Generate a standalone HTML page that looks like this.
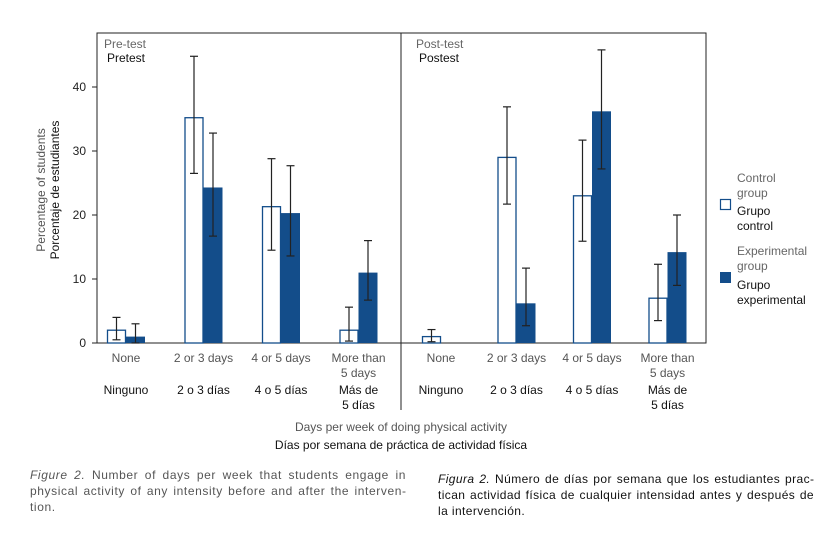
<!DOCTYPE html>
<html><head><meta charset="utf-8">
<style>
body{margin:0;background:#fff;font-family:"Liberation Sans",sans-serif;}
svg text{font-family:"Liberation Sans",sans-serif;}
.cap{position:absolute;font-size:12px;line-height:16px;color:#333;text-align:justify;letter-spacing:0.4px;}
</style></head>
<body>
<div style="position:relative;width:840px;height:542px;overflow:hidden">
<svg id="chart" width="840" height="460" style="position:absolute;left:0;top:0"></svg>
<div class="cap" style="left:30px;top:467px;width:376px;color:#555;letter-spacing:0.6px"><i>Figure 2.</i> Number of days per week that students engage in physical activity of any intensity before and after the interven&shy;tion.</div>
<div class="cap" style="left:438px;top:471px;width:376px;color:#111"><i>Figura 2.</i> Número de días por semana que los estudiantes prac&shy;tican actividad física de cualquier intensidad antes y después de la intervención.</div>
</div>
<script>
const categories=["None","2 or 3 days","4 or 5 days","More than|5 days"];
const categoriesEs=["Ninguno","2 o 3 días","4 o 5 días","Más de|5 días"];
const yTicks=[0,10,20,30,40];
const preControl=[2,35.2,21.3,2];
const preExp=[1,24.3,20.3,11];
const preControlLo=[0.5,26.5,14.5,0.3];
const preControlHi=[4,44.8,28.8,5.6];
const preExpLo=[0,16.7,13.6,6.7];
const preExpHi=[3,32.8,27.7,16];
const postControl=[1,29,23,7];
const postExp=[0,6.2,36.2,14.2];
const postControlLo=[0.2,21.7,15.9,3.5];
const postControlHi=[2.1,36.9,31.7,12.3];
const postExpLo=[null,2.7,27.2,9];
const postExpHi=[null,11.7,45.8,20];

const NS="http://www.w3.org/2000/svg";
const svg=document.getElementById('chart');
function el(t,a,p){const e=document.createElementNS(NS,t);for(const k in a)e.setAttribute(k,a[k]);(p||svg).appendChild(e);return e;}
const y0=343,pxPer=6.4;
function y(v){return y0-v*pxPer;}
const blue="#134d8a";
let f=el('rect',{x:97,y:33,width:609,height:310,fill:'none',stroke:'#222','stroke-width':1});

let d=el('line',{x1:401,y1:33,x2:401,y2:410,stroke:'#222','stroke-width':1});

yTicks.forEach(t=>{
 let l=el('line',{x1:92,x2:97,y1:y(t),y2:y(t),stroke:'#222'});
 
 let tx=el('text',{x:86,y:y(t)+4,'text-anchor':'end','font-size':12,fill:'#222'});tx.textContent=t;
 
});
let yt=el('text',{transform:'translate(45,190) rotate(-90)','text-anchor':'middle','font-size':12,fill:'#555'});yt.textContent='Percentage of students';

let yt2=el('text',{transform:'translate(59,190) rotate(-90)','text-anchor':'middle','font-size':12,fill:'#111'});yt2.textContent='Porcentaje de estudiantes';

[[104,'Pre-test','Pretest'],[416,'Post-test','Postest']].forEach(p=>{
 let a=el('text',{x:p[0],y:48,'font-size':12,fill:'#666'});a.textContent=p[1];
 
 let b=el('text',{x:p[0]+3,y:62,'font-size':12,fill:'#111'});b.textContent=p[2];
 
});
const bw=19;
function errbar(cx,lo,hi){
 if(lo==null)return;
 let g=el('g',{stroke:'#222','stroke-width':1.2});
 
 el('line',{x1:cx,x2:cx,y1:y(lo),y2:y(hi)},g);
 el('line',{x1:cx-4,x2:cx+4,y1:y(lo),y2:y(lo)},g);
 el('line',{x1:cx-4,x2:cx+4,y1:y(hi),y2:y(hi)},g);
}
function panel(x0,step,ctl,exp,cl,ch,elo,ehi,name){
 categories.forEach((c,i)=>{
  const cx=x0+i*step;
  if(ctl[i]>0){let r=el('rect',{x:cx-bw+0.5,y:y(ctl[i]),width:bw-1,height:ctl[i]*pxPer,fill:'#fff',stroke:blue,'stroke-width':1.3});
  }
  if(exp[i]>0){let r=el('rect',{x:cx,y:y(exp[i]),width:bw,height:exp[i]*pxPer,fill:blue});
  }
  errbar(cx-bw/2,cl[i],ch[i]);
  errbar(cx+bw/2,elo[i],ehi[i]);
  const en=c.split('|'),es=categoriesEs[i].split('|');
  en.forEach((s,k)=>{let t=el('text',{x:cx,y:362+k*15,'text-anchor':'middle','font-size':12,fill:'#555'});t.textContent=s;
   });
  es.forEach((s,k)=>{let t=el('text',{x:cx,y:394+k*15,'text-anchor':'middle','font-size':12,fill:'#111'});t.textContent=s;
   });
 });
}
panel(126,77.5,preControl,preExp,preControlLo,preControlHi,preExpLo,preExpHi,'pretest');
panel(441,75.5,postControl,postExp,postControlLo,postControlHi,postExpLo,postExpHi,'posttest');
let xt=el('text',{x:401,y:431,'text-anchor':'middle','font-size':12,fill:'#555'});xt.textContent='Days per week of doing physical activity';

let xt2=el('text',{x:401,y:449,'text-anchor':'middle','font-size':12,fill:'#111'});xt2.textContent='Días por semana de práctica de actividad física';

let lg=el('g',{});
let s1=el('rect',{x:720.5,y:199.5,width:10,height:10,fill:'#fff',stroke:blue,'stroke-width':1.2},lg);

let s2=el('rect',{x:720,y:272,width:11,height:11,fill:blue},lg);

[['Control',182,'#666'],['group',197,'#666'],['Grupo',215,'#111'],['control',230,'#111'],
 ['Experimental',255,'#666'],['group',270,'#666'],['Grupo',289,'#111'],['experimental',304,'#111']].forEach(a=>{
 let t=el('text',{x:737,y:a[1],'font-size':12,fill:a[2]},lg);t.textContent=a[0];
 
});
</script>
</body></html>
